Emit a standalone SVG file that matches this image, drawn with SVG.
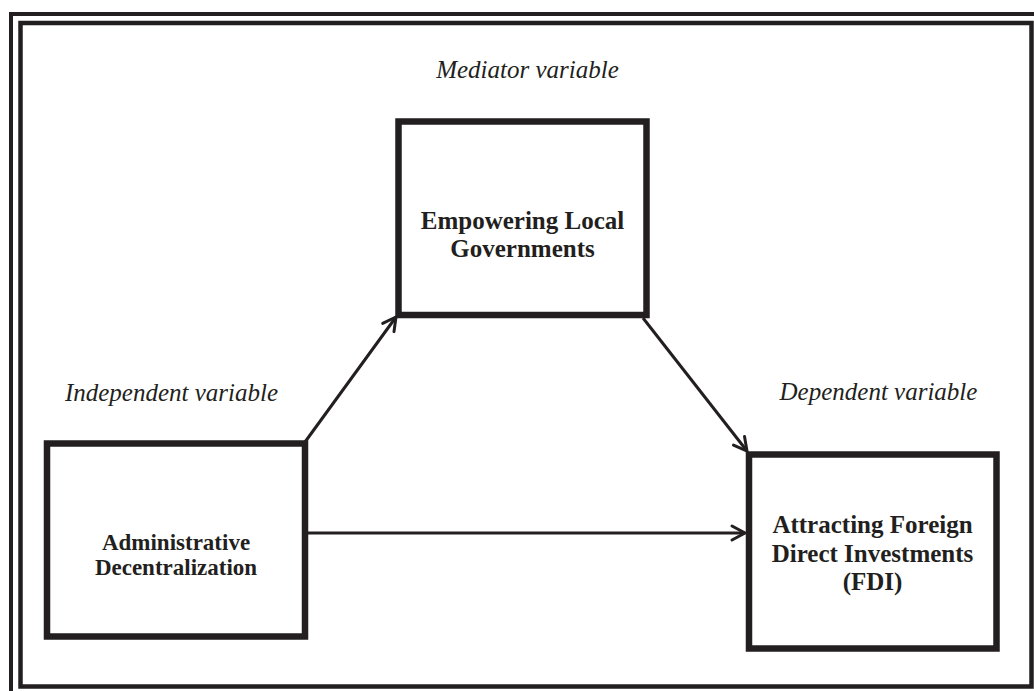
<svg xmlns="http://www.w3.org/2000/svg" width="1034" height="691" viewBox="0 0 1034 691">
<defs>
<style>
.frame{fill:none;stroke:#231f20;}
.box{fill:#fff;stroke:#231f20;stroke-width:6.5;}
.t{font-family:"Liberation Serif","Times New Roman",serif;font-weight:bold;fill:#231f20;text-anchor:middle;}
.lab{font-family:"Liberation Serif","Times New Roman",serif;font-style:italic;font-size:25px;fill:#231f20;text-anchor:middle;}
.conn{fill:none;stroke:#231f20;stroke-width:3;}
</style>
<marker id="arr" markerUnits="userSpaceOnUse" markerWidth="24" markerHeight="24" refX="16" refY="8" orient="auto" viewBox="0 0 24 16">
<path d="M3,1 L16,8 L3,15" fill="none" stroke="#231f20" stroke-width="3" stroke-linecap="round" stroke-linejoin="miter"/>
</marker>
</defs>
<rect x="0" y="0" width="1034" height="691" fill="#fff"/>
<rect class="frame" x="11" y="14" width="1040" height="700" stroke-width="4"/>
<rect class="frame" x="20.5" y="23" width="1011" height="663.5" stroke-width="4.5"/>
<g id="connectors">
<line class="conn" x1="305" y1="442" x2="396" y2="317" marker-end="url(#arr)"/>
<line class="conn" x1="643" y1="318" x2="747" y2="451" marker-end="url(#arr)"/>
<line class="conn" x1="308" y1="533" x2="745" y2="533" marker-end="url(#arr)"/>
</g>
<g id="mediator">
<text class="lab" x="527.5" y="78" font-size="26">Mediator variable</text>
<rect class="box" x="398.5" y="121.5" width="248" height="193.5"/>
<text class="t" x="522.5" y="229" font-size="25">Empowering Local</text>
<text class="t" x="522.5" y="257" font-size="25">Governments</text>
</g>
<g id="independent">
<text class="lab" x="171.5" y="401">Independent variable</text>
<rect class="box" x="47" y="443.5" width="258" height="193"/>
<text class="t" x="176" y="550" font-size="23">Administrative</text>
<text class="t" x="176" y="575" font-size="23">Decentralization</text>
</g>
<g id="dependent">
<text class="lab" x="878.5" y="400">Dependent variable</text>
<rect class="box" x="749" y="454.5" width="247.5" height="194"/>
<text class="t" x="872.5" y="533" font-size="25">Attracting Foreign</text>
<text class="t" x="872.5" y="562" font-size="25">Direct Investments</text>
<text class="t" x="872.5" y="590" font-size="25">(FDI)</text>
</g>
</svg>
